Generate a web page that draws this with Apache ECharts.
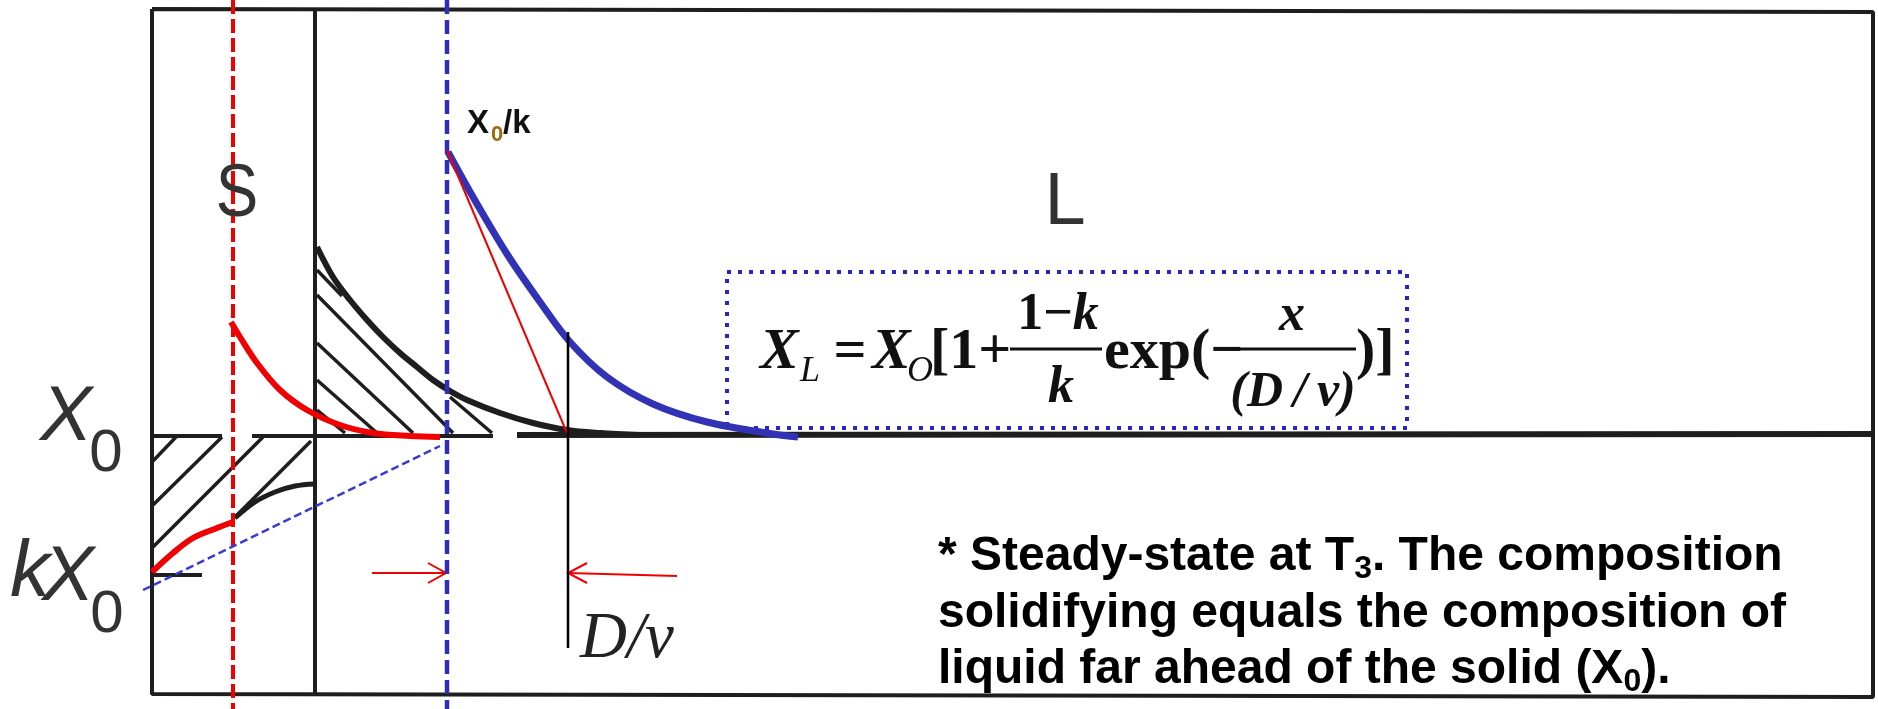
<!DOCTYPE html>
<html>
<head>
<meta charset="utf-8">
<script src="https://cdn.jsdelivr.net/npm/echarts/dist/echarts.min.js"></script>
<style>
  html, body { margin: 0; padding: 0; background: #fff; }
  #chart { width: 1878px; height: 709px; }
</style>
</head>
<body>
<div id="chart"></div>
<script>
// values, in picture units (x to the right, y downwards)
const frameBox = [[152, 9], [1873, 12], [1873, 697], [152, 694], [152, 9]];
const interfaceLine = [[315, 10], [315, 695]];
const x0LineNear = [[[152, 436], [222, 436]], [[252, 436], [315, 436]], [[315, 436], [493, 436]]];
const x0LineFar = [[517, 435], [1873, 434]];
const kx0Tick = [[152, 575], [202, 575]];
const hatchSolid = [
  [[153, 461], [176, 437]],
  [[153, 505], [222, 437]],
  [[153, 547], [263, 437]],
  [[235, 517], [311, 441]]
];
const hatchLiquid = [
  [[317, 270], [342, 296]],
  [[317, 295], [453, 433]],
  [[317, 343], [413, 433]],
  [[317, 380], [377, 433]],
  [[317, 410], [345, 433]],
  [[450, 397], [492, 433]]
];
const liquidCurveBlack = [[317, 247], [333, 277], [350, 300], [367, 320], [383, 337], [400, 353], [417, 367],
  [433, 380], [450, 391], [467, 400], [500, 413], [533, 423], [567, 430], [600, 433], [640, 435]];
const solidCurveBlack = [[235, 518], [255, 502], [275, 492], [295, 486], [315, 484]];
const solidCurveRed = [[152, 572], [173, 553], [193, 538], [217, 528], [233, 522]];
const liquidCurveRed = [[231, 322], [240, 337], [257, 363], [280, 390], [307, 410], [340, 425], [373, 433], [410, 436], [440, 437]];
const liquidCurveBlue = [[448, 152], [473, 197], [507, 254], [540, 302], [570, 342], [607, 377], [653, 404], [707, 422], [773, 434], [798, 437]];
const tangentLine = [[447, 150], [567, 433]];
const solidLineBlue = [[143, 590], [440, 446]];
const redFront = [[233, 0], [233, 709]];
const blueFront = [[447, 0], [447, 709]];
const diffusionMark = [[568, 332], [568, 648]];
const arrowLeft = [[[372, 573], [446, 573]], [[428, 563], [446, 573], [428, 583]]];
const arrowRight = [[[677, 576], [568, 573]], [[587, 563], [568, 573], [587, 583]]];
const equationBox = [[727, 272], [1407, 272], [1407, 428], [727, 428], [727, 272]];

const INK = '#1e1e1e';
const RED = '#f00000';
const BLUE = '#3232b6';

function path(data, color, width, extra) {
  return Object.assign({
    type: 'line', data: data, showSymbol: false, silent: true, animation: false,
    lineStyle: { color: color, width: width, cap: 'butt' }
  }, extra || {});
}
function segs(list, color, width) {
  return {
    type: 'lines', coordinateSystem: 'cartesian2d', polyline: true, silent: true, animation: false,
    data: list.map(c => ({ coords: c })),
    lineStyle: { color: color, width: width, curveness: 0, opacity: 1 }
  };
}
const SMOOTH = { smooth: 0.35 };

// text pieces, placed by baseline
function txt(text, x, base, font, fs, opt) {
  opt = opt || {};
  return {
    type: 'text', x: x, y: base - 0.3 * fs, z: 100, silent: true, scaleX: opt.scaleX || 1,
    style: { text: text, font: font.replace('#', fs + 'px'), fill: opt.fill || '#111',
      align: opt.align || 'left', verticalAlign: 'middle', rich: opt.rich }
  };
}
function bar(x1, x2, y) {
  return { type: 'line', z: 100, silent: true, shape: { x1: x1, y1: y, x2: x2, y2: y }, style: { stroke: '#111', lineWidth: 3 } };
}

const SANS = '"Liberation Sans", Arial, sans-serif';
const SERIF = '"Liberation Serif", "Times New Roman", serif';
const bodyRich = {
  n: { font: 'bold 48px ' + SANS, fill: '#000', lineHeight: 56, verticalAlign: 'middle' },
  s: { font: 'bold 32px ' + SANS, fill: '#000', lineHeight: 22, verticalAlign: 'bottom' }
};
function bodyLine(text, top) {
  return { type: 'text', x: 938, y: top, z: 100, silent: true,
    style: { text: text, rich: bodyRich, align: 'left', verticalAlign: 'top' } };
}

const chart = echarts.init(document.getElementById('chart'));
chart.setOption({
  animation: false,
  grid: { left: 0, right: 0, top: 0, bottom: 0 },
  xAxis: { type: 'value', min: 0, max: 1878, show: false },
  yAxis: { type: 'value', min: 0, max: 709, inverse: true, show: false },
  series: [
    path(frameBox, INK, 4),
    path(interfaceLine, INK, 4),
    segs(x0LineNear, INK, 4),
    path(x0LineFar, INK, 6),
    path(kx0Tick, INK, 4),
    segs(hatchSolid, INK, 3.5),
    segs(hatchLiquid, INK, 3.5),
    path(liquidCurveBlack, INK, 6, SMOOTH),
    path(solidCurveBlack, INK, 5, SMOOTH),
    path(equationBox, '#2626c4', 4, { lineStyle: { color: '#2626c4', width: 4, type: [4, 7], cap: 'butt' } }),
    path(redFront, RED, 4, { lineStyle: { color: RED, width: 4, type: [14, 5], cap: 'butt' } }),
    path(blueFront, '#2e2ebc', 4.5, { lineStyle: { color: '#2e2ebc', width: 4.5, type: [14, 6], cap: 'butt' } }),
    path(solidLineBlue, '#3a3ad2', 2.5, { lineStyle: { color: '#3a3ad2', width: 2.5, type: [8, 4], cap: 'butt' } }),
    path(solidCurveRed, RED, 6, SMOOTH),
    path(liquidCurveRed, RED, 6, SMOOTH),
    path(liquidCurveBlue, BLUE, 7, SMOOTH),
    path(tangentLine, RED, 2),
    path(diffusionMark, '#000', 2.5),
    segs(arrowLeft, RED, 2),
    segs(arrowRight, RED, 2)
  ],
  graphic: [
    txt('S', 237, 218, '# ' + SANS, 74, { align: 'center', fill: '#333', scaleX: 0.86 }),
    txt('L', 1065, 226, '# ' + SANS, 74, { align: 'center', fill: '#333' }),
    txt('X', 66, 442, 'italic # ' + SANS, 78, { align: 'center', fill: '#333' }),
    txt('0', 106, 472, '# ' + SANS, 60, { align: 'center', fill: '#333' }),
    txt('k', 30, 598, 'italic # ' + SANS, 80, { align: 'center', fill: '#333' }),
    txt('X', 68, 602, 'italic # ' + SANS, 78, { align: 'center', fill: '#333' }),
    txt('0', 107, 633, '# ' + SANS, 60, { align: 'center', fill: '#333' }),
    txt('X', 467, 134, 'bold # ' + SANS, 33, { fill: '#111' }),
    txt('0', 491, 142, 'bold # ' + SANS, 22, { fill: '#9a6a10' }),
    txt('/k', 503, 134, 'bold # ' + SANS, 33, { fill: '#111' }),
    txt('D/\u03bd', 580, 659, 'italic # ' + SERIF, 65, { fill: '#222' }),
    // equation
    txt('X', 760, 370, 'italic bold # ' + SERIF, 58),
    txt('L', 800, 382, 'italic # ' + SERIF, 36),
    txt('=', 850, 370, 'bold # ' + SERIF, 58, { align: 'center' }),
    txt('X', 872, 370, 'italic bold # ' + SERIF, 58),
    txt('O', 907, 382, 'italic # ' + SERIF, 36),
    txt('[1+', 930, 370, 'bold # ' + SERIF, 58),
    txt('{r|1\u2212}{i|k}', 1058, 331, 'bold # ' + SERIF, 52, { align: 'center',
      rich: { r: { font: 'bold 52px ' + SERIF, fill: '#111' }, i: { font: 'italic bold 52px ' + SERIF, fill: '#111' } } }),
    bar(1010, 1102, 349),
    txt('k', 1061, 404, 'italic bold # ' + SERIF, 52, { align: 'center' }),
    txt('exp(\u2212', 1104, 370, 'bold # ' + SERIF, 58),
    bar(1229, 1356, 349),
    txt('x', 1292, 332, 'italic bold # ' + SERIF, 52, { align: 'center' }),
    txt('(D\u2009/\u2009\u03bd)', 1293, 408, 'italic bold # ' + SERIF, 50, { align: 'center' }),
    txt(')]', 1356, 370, 'bold # ' + SERIF, 58),
    // note
    bodyLine('{n|* Steady-state at T}{s|3}{n|. The composition}', 529),
    bodyLine('{n|solidifying equals the composition of}', 586),
    bodyLine('{n|liquid far ahead of the solid (X}{s|0}{n|).}', 642)
  ]
});
window.addEventListener('resize', () => chart.resize());
</script>
</body>
</html>
